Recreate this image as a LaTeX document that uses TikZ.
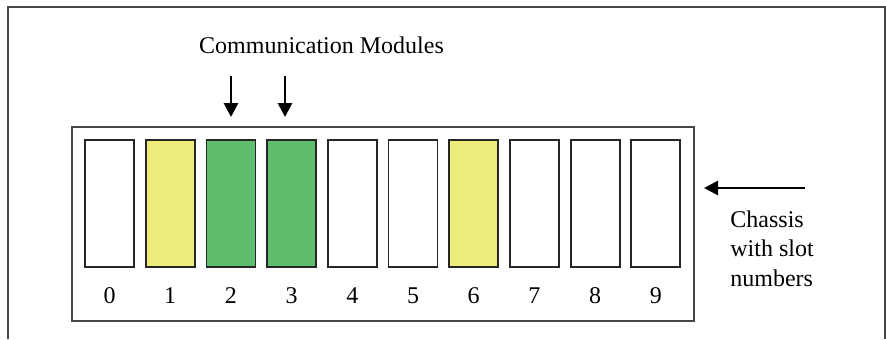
\documentclass[tikz,border=0pt]{standalone}
\usepackage{fontspec}
\setmainfont{Liberation Serif}
\usetikzlibrary{arrows.meta}
\definecolor{slotyellow}{RGB}{238,236,122}
\definecolor{slotgreen}{RGB}{95,189,110}
\definecolor{framegray}{RGB}{70,70,70}
\begin{document}
\begin{tikzpicture}[x=0.5pt,y=-0.5pt,
  slotbox/.style={draw=black!85,line width=0.9pt,inner sep=0pt,minimum width=24.5pt,minimum height=63.5pt},
  chassisbox/.style={draw=framegray,line width=0.9pt,inner sep=0pt,minimum width=311pt,minimum height=97pt},
  numlabel/.style={font=\fontsize{12}{14}\selectfont,anchor=base,inner sep=0pt},
  bigarrow/.style={line width=1.4pt,-{Triangle[width=7pt,length=7pt]}}
]
\useasboundingbox (0,0) rectangle (886,339);
\draw[framegray,line width=0.75pt] (8,339) -- (8,7) -- (885,7) -- (885,339);
\node[chassisbox] (chassis) at (383,224) {};
\foreach \i/\c in {0/white,1/slotyellow,2/slotgreen,3/slotgreen,4/white,5/white,6/slotyellow,7/white,8/white,9/white}{
  \node[slotbox,fill=\c] (s\i) at ({109.5+60.7*\i},203.5) {};
  \node[numlabel] (n\i) at ({109.5+60.7*\i},303) {\i};
}
\node[numlabel] (title) at (321.5,53) {Communication Modules};
\coordinate (a2s) at (231,76);
\coordinate (a2e) at (231,117);
\coordinate (a3s) at (285,76);
\coordinate (a3e) at (285,117);
\draw[bigarrow] (a2s) -- (a2e);
\draw[bigarrow] (a3s) -- (a3e);
\node[font=\fontsize{12}{14.75}\selectfont,align=left,anchor=north west,inner sep=0pt] (clabel) at (730,210) {Chassis\\with slot\\numbers};
\coordinate (cs) at (805,188);
\coordinate (ce) at (704,188);
\draw[bigarrow] (cs) -- (ce);
\end{tikzpicture}
\end{document}
